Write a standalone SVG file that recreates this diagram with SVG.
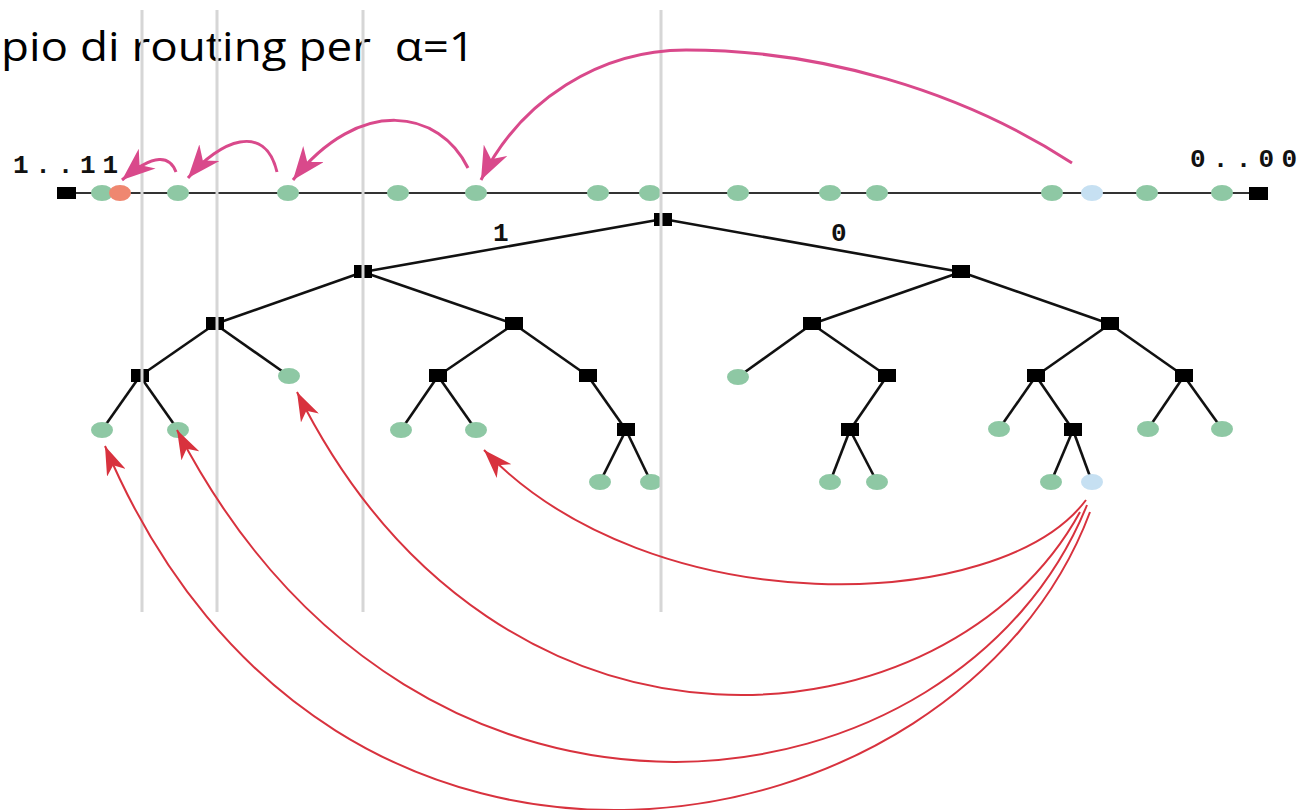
<svg xmlns="http://www.w3.org/2000/svg" width="1301" height="810" viewBox="0 0 1301 810">
<style>
.bg{fill:#ffffff}
.leaf{fill:#8ec8a4}
.src{fill:#c6e0f2}
.dst{fill:#ef8770}
.sq{fill:#000000}
.edge{stroke:#111111;stroke-width:2.6;fill:none}
.axis{stroke:#333333;stroke-width:2;fill:none}
.guide{stroke:#d6d6d6;stroke-width:3}
.pink{stroke:#d9498b;stroke-width:3;fill:none}
.red{stroke:#d8323e;stroke-width:2;fill:none}
.mono{font-family:"Liberation Mono","DejaVu Sans Mono",monospace;font-weight:bold;fill:#111111}
.title{font-family:"Open Sans","Liberation Sans",sans-serif;font-size:41px;fill:#000000}
</style>
<defs>
<marker id="pinkHead" markerUnits="userSpaceOnUse" markerWidth="34" markerHeight="26" viewBox="0 0 34 26" refX="33" refY="13" orient="auto">
<path d="M33,13 L0,0 L10,13 L0,26 Z" fill="#d9498b"/>
</marker>
<marker id="redHead" markerUnits="userSpaceOnUse" markerWidth="30" markerHeight="20" viewBox="0 0 30 20" refX="29" refY="10" orient="auto">
<path d="M29,10 L0,0 L8,10 L0,20 Z" fill="#d8323e"/>
</marker>
</defs>
<rect class="bg" x="0" y="0" width="1301" height="810"/>

<text class="title" x="1" y="61" textLength="474" lengthAdjust="spacingAndGlyphs" xml:space="preserve">pio di routing per  α=1</text>

<g id="connectors">
<line class="axis" x1="66" y1="193" x2="1258" y2="193"/>
<line class="edge" x1="663" y1="219" x2="363" y2="272"/>
<line class="edge" x1="663" y1="219" x2="961" y2="272"/>
<line class="edge" x1="363" y1="272" x2="215" y2="324"/>
<line class="edge" x1="363" y1="272" x2="514" y2="324"/>
<line class="edge" x1="961" y1="272" x2="812" y2="324"/>
<line class="edge" x1="961" y1="272" x2="1110" y2="324"/>
<line class="edge" x1="215" y1="324" x2="140" y2="376"/>
<line class="edge" x1="215" y1="324" x2="289" y2="376"/>
<line class="edge" x1="514" y1="324" x2="438" y2="376"/>
<line class="edge" x1="514" y1="324" x2="588" y2="376"/>
<line class="edge" x1="812" y1="324" x2="738" y2="377"/>
<line class="edge" x1="812" y1="324" x2="887" y2="376"/>
<line class="edge" x1="1110" y1="324" x2="1036" y2="376"/>
<line class="edge" x1="1110" y1="324" x2="1184" y2="376"/>
<line class="edge" x1="140" y1="376" x2="102" y2="430"/>
<line class="edge" x1="140" y1="376" x2="178" y2="430"/>
<line class="edge" x1="438" y1="376" x2="401" y2="430"/>
<line class="edge" x1="438" y1="376" x2="476" y2="430"/>
<line class="edge" x1="588" y1="376" x2="626" y2="430"/>
<line class="edge" x1="887" y1="376" x2="850" y2="430"/>
<line class="edge" x1="1036" y1="376" x2="999" y2="429"/>
<line class="edge" x1="1036" y1="376" x2="1073" y2="430"/>
<line class="edge" x1="1184" y1="376" x2="1148" y2="429"/>
<line class="edge" x1="1184" y1="376" x2="1222" y2="429"/>
<line class="edge" x1="626" y1="430" x2="600" y2="482"/>
<line class="edge" x1="626" y1="430" x2="651" y2="482"/>
<line class="edge" x1="850" y1="430" x2="830" y2="482"/>
<line class="edge" x1="850" y1="430" x2="877" y2="482"/>
<line class="edge" x1="1073" y1="430" x2="1051" y2="482"/>
<line class="edge" x1="1073" y1="430" x2="1092" y2="482"/>
</g>

<g id="top-line-nodes">
<g id="end-left"><rect class="sq" x="57" y="187" width="19" height="12"/></g>
<g id="end-right"><rect class="sq" x="1249" y="187" width="19" height="13"/></g>
<g id="t102"><ellipse class="leaf" cx="102" cy="193" rx="11" ry="8"/></g>
<g id="t120"><ellipse class="dst" cx="120" cy="193" rx="11" ry="8"/></g>
<g id="t178"><ellipse class="leaf" cx="178" cy="193" rx="11" ry="8"/></g>
<g id="t288"><ellipse class="leaf" cx="288" cy="193" rx="11" ry="8"/></g>
<g id="t398"><ellipse class="leaf" cx="398" cy="193" rx="11" ry="8"/></g>
<g id="t476"><ellipse class="leaf" cx="476" cy="193" rx="11" ry="8"/></g>
<g id="t598"><ellipse class="leaf" cx="598" cy="193" rx="11" ry="8"/></g>
<g id="t650"><ellipse class="leaf" cx="650" cy="193" rx="11" ry="8"/></g>
<g id="t738"><ellipse class="leaf" cx="738" cy="193" rx="11" ry="8"/></g>
<g id="t830"><ellipse class="leaf" cx="830" cy="193" rx="11" ry="8"/></g>
<g id="t877"><ellipse class="leaf" cx="877" cy="193" rx="11" ry="8"/></g>
<g id="t1052"><ellipse class="leaf" cx="1052" cy="193" rx="11" ry="8"/></g>
<g id="t1092"><ellipse class="src" cx="1092" cy="193" rx="11" ry="8"/></g>
<g id="t1147"><ellipse class="leaf" cx="1147" cy="193" rx="11" ry="8"/></g>
<g id="t1222"><ellipse class="leaf" cx="1222" cy="193" rx="11" ry="8"/></g>
</g>

<g id="tree-nodes">
<g id="root"><rect class="sq" x="654" y="213" width="18" height="13"/></g>
<g id="n1"><rect class="sq" x="354" y="265" width="18" height="13"/></g>
<g id="n0"><rect class="sq" x="952" y="265" width="18" height="13"/></g>
<g id="n11"><rect class="sq" x="206" y="317" width="18" height="13"/></g>
<g id="n10"><rect class="sq" x="505" y="317" width="18" height="13"/></g>
<g id="n01"><rect class="sq" x="803" y="317" width="18" height="13"/></g>
<g id="n00"><rect class="sq" x="1101" y="317" width="18" height="13"/></g>
<g id="n111"><rect class="sq" x="131" y="369" width="18" height="13"/></g>
<g id="l110"><ellipse class="leaf" cx="289" cy="376" rx="11" ry="8"/></g>
<g id="n101"><rect class="sq" x="429" y="369" width="18" height="13"/></g>
<g id="n100"><rect class="sq" x="579" y="369" width="18" height="13"/></g>
<g id="l011"><ellipse class="leaf" cx="738" cy="377" rx="11" ry="8"/></g>
<g id="n010"><rect class="sq" x="878" y="369" width="18" height="13"/></g>
<g id="n001"><rect class="sq" x="1027" y="369" width="18" height="13"/></g>
<g id="n000"><rect class="sq" x="1175" y="369" width="18" height="13"/></g>
<g id="l1111"><ellipse class="leaf" cx="102" cy="430" rx="11" ry="8"/></g>
<g id="l1110"><ellipse class="leaf" cx="178" cy="430" rx="11" ry="8"/></g>
<g id="l1011"><ellipse class="leaf" cx="401" cy="430" rx="11" ry="8"/></g>
<g id="l1010"><ellipse class="leaf" cx="476" cy="430" rx="11" ry="8"/></g>
<g id="n1000"><rect class="sq" x="617" y="423" width="18" height="13"/></g>
<g id="n0100"><rect class="sq" x="841" y="423" width="18" height="13"/></g>
<g id="l0011"><ellipse class="leaf" cx="999" cy="429" rx="11" ry="8"/></g>
<g id="n0010"><rect class="sq" x="1064" y="423" width="18" height="13"/></g>
<g id="l0001"><ellipse class="leaf" cx="1148" cy="429" rx="11" ry="8"/></g>
<g id="l0000"><ellipse class="leaf" cx="1222" cy="429" rx="11" ry="8"/></g>
<g id="l10001"><ellipse class="leaf" cx="600" cy="482" rx="11" ry="8"/></g>
<g id="l10000"><ellipse class="leaf" cx="651" cy="482" rx="11" ry="8"/></g>
<g id="l01001"><ellipse class="leaf" cx="830" cy="482" rx="11" ry="8"/></g>
<g id="l01000"><ellipse class="leaf" cx="877" cy="482" rx="11" ry="8"/></g>
<g id="l00101"><ellipse class="leaf" cx="1051" cy="482" rx="11" ry="8"/></g>
<g id="l00100"><ellipse class="src" cx="1092" cy="482" rx="11" ry="8"/></g>
</g>

<g id="labels">
<text class="mono" x="13" y="173" font-size="26" textLength="105" lengthAdjust="spacing">1..11</text>
<text class="mono" x="1190" y="167" font-size="26" textLength="107" lengthAdjust="spacing">0..00</text>
<text class="mono" x="493" y="241" font-size="26">1</text>
<text class="mono" x="831" y="241" font-size="26">0</text>
</g>

<g id="guides">
<line class="guide" x1="142" y1="10" x2="142" y2="612"/>
<line class="guide" x1="217" y1="10" x2="217" y2="612"/>
<line class="guide" x1="363" y1="10" x2="363" y2="612"/>
<line class="guide" x1="661" y1="10" x2="661" y2="612"/>
</g>

<g id="routing-arrows">
<path class="pink" marker-end="url(#pinkHead)" d="M1072,163 C960,90 820,50 686,50 C600,50 520,100 481,180"/>
<path class="pink" marker-end="url(#pinkHead)" d="M468,168 C440,110 360,95 293,180"/>
<path class="pink" marker-end="url(#pinkHead)" d="M277,172 C265,122 220,140 188,178"/>
<path class="pink" marker-end="url(#pinkHead)" d="M176,172 C170,156 155,152 122,180"/>
<path class="red" marker-end="url(#redHead)" d="M1086,500 C1000,615 650,625 484,450"/>
<path class="red" marker-end="url(#redHead)" d="M1080,512 C950,750 500,800 297,392"/>
<path class="red" marker-end="url(#redHead)" d="M1087,505 C960,820 420,900 177,430"/>
<path class="red" marker-end="url(#redHead)" d="M1090,512 C960,860 330,980 105,446"/>
</g>
</svg>
